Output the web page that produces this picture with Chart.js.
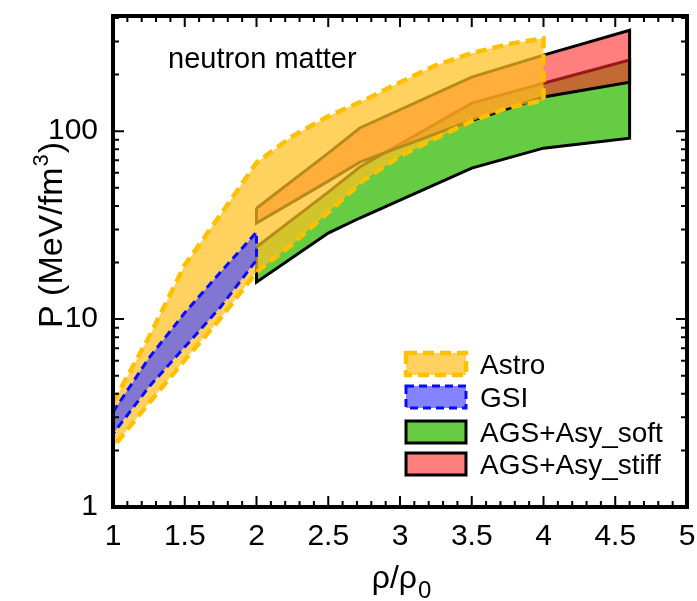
<!DOCTYPE html>
<html>
<head>
<meta charset="utf-8">
<title>Neutron matter pressure</title>
<style>
  * { margin: 0; padding: 0; }
  body { background: #fff; }
  #wrap { width: 697px; height: 601px; }
</style>
<script src="https://cdn.jsdelivr.net/npm/chart.js"></script>
</head>
<body>
<div id="wrap"><canvas id="eos"></canvas></div>
<script>
// density rho/rho0 and pressure P (MeV/fm^3)
const astroX     = [1, 1.25, 1.5, 1.75, 2, 2.25, 2.5, 2.75, 3, 3.25, 3.5, 3.75, 4];
const astroUpper = [3.6, 8.0, 19.4, 36, 68, 94, 120, 146, 182, 224, 260, 290, 312];
const astroLower = [2.08, 3.57, 6.05, 10.1, 17.8, 25, 37, 55, 73.6, 91.8, 113, 133, 146];

const gsiX     = [1, 1.25, 1.5, 1.75, 2];
const gsiUpper = [3.2, 6.2, 10.8, 17.8, 29];
const gsiLower = [2.45, 4.35, 7.1, 11.6, 20.6];

const agsX      = [2, 2.5, 2.72, 3.5, 4, 4.6];
const softUpper = [24.2, 47.4, 64.4, 141, 180, 239];
const softLower = [15.7, 28.7, 34.5, 63.6, 81.2, 91.8];
const stiffUpper = [38.9, 76.4, 104, 194, 254, 344];
const stiffLower = [32.4, 54.2, 68.4, 114, 152, 182];

const xTicks = [1, 1.5, 2, 2.5, 3, 3.5, 4, 4.5, 5];
const yTicks = [1, 10, 100];
const legendOrder = ['Astro', 'GSI', 'AGS+Asy_soft', 'AGS+Asy_stiff'];

const FONT = "'Liberation Sans', Arial, Helvetica, sans-serif";
Chart.defaults.font.family = FONT;

// closed outline: upper edge left to right, lower edge back
function band(xs, upper, lower) {
  const pts = xs.map((x, i) => ({x: x, y: upper[i]}));
  for (let i = xs.length - 1; i >= 0; i--) pts.push({x: xs[i], y: lower[i]});
  pts.push(pts[0]);
  return pts;
}

function bandSet(label, pts, fillColor, lineColor, width, dash) {
  return {
    label: label,
    data: pts,
    showLine: true,
    fill: 'shape',
    backgroundColor: fillColor,
    borderColor: lineColor,
    borderWidth: width,
    borderDash: dash,
    borderJoinStyle: 'miter',
    pointRadius: 0,
    pointHoverRadius: 0
  };
}

// first one ends up on top
const datasets = [
  bandSet('GSI', band(gsiX, gsiUpper, gsiLower), 'rgba(80,80,255,0.71)', '#0a0aff', 3, [8, 5]),
  bandSet('Astro', band(astroX, astroUpper, astroLower), 'rgba(255,192,35,0.72)', '#ffc000', 4.5, [11, 6]),
  bandSet('AGS+Asy_stiff', band(agsX, stiffUpper, stiffLower), 'rgba(255,40,40,0.6)', '#000', 3, []),
  bandSet('AGS+Asy_soft', band(agsX, softUpper, softLower), '#66cc44', '#000', 3, [])
];

const decorations = {
  id: 'decorations',
  afterDraw(chart) {
    const {ctx, chartArea: a, scales: {x, y}} = chart;
    ctx.save();
    ctx.strokeStyle = '#000';
    ctx.lineWidth = 2;
    ctx.beginPath();
    // x ticks every 0.1, pointing inward, bottom and top
    for (let i = 0; i <= 40; i++) {
      const px = x.getPixelForValue(1 + i / 10);
      const len = i % 5 === 0 ? 11 : 6;
      ctx.moveTo(px, a.bottom); ctx.lineTo(px, a.bottom - len);
      ctx.moveTo(px, a.top); ctx.lineTo(px, a.top + len);
    }
    // log y ticks, left and right
    for (let e = 0; e < 3; e++) {
      for (let m = 1; m <= 9; m++) {
        const v = m * Math.pow(10, e);
        if (v > y.max) break;
        const py = y.getPixelForValue(v);
        const len = m === 1 ? 11 : 6;
        ctx.moveTo(a.left, py); ctx.lineTo(a.left + len, py);
        ctx.moveTo(a.right, py); ctx.lineTo(a.right - len, py);
      }
    }
    ctx.stroke();
    ctx.lineWidth = 4;
    ctx.strokeRect(a.left, a.top, a.right - a.left, a.bottom - a.top);

    ctx.fillStyle = '#000';
    ctx.textBaseline = 'alphabetic';

    // annotation
    ctx.font = '29px ' + FONT;
    ctx.textAlign = 'left';
    ctx.fillText('neutron matter', 168, 68);

    // x title with subscript
    ctx.font = '32px ' + FONT;
    const main = 'ρ/ρ';
    const wMain = ctx.measureText(main).width;
    ctx.font = '24px ' + FONT;
    const wSub = ctx.measureText('0').width;
    let sx = 401 - (wMain + wSub) / 2;
    ctx.font = '32px ' + FONT;
    ctx.fillText(main, sx, 588);
    ctx.font = '24px ' + FONT;
    ctx.fillText('0', sx + wMain + 1, 598);

    // y title with superscript
    ctx.save();
    ctx.translate(62, 236);
    ctx.rotate(-Math.PI / 2);
    ctx.font = '34px ' + FONT;
    const t1 = 'P (MeV/fm', t3 = ')';
    const w1 = ctx.measureText(t1).width, w3 = ctx.measureText(t3).width;
    ctx.font = '22px ' + FONT;
    const w2 = ctx.measureText('3').width;
    let tx = -(w1 + w2 + w3) / 2;
    ctx.font = '34px ' + FONT;
    ctx.fillText(t1, tx, 0);
    ctx.font = '22px ' + FONT;
    ctx.fillText('3', tx + w1 + 1, -14);
    ctx.font = '34px ' + FONT;
    ctx.fillText(t3, tx + w1 + w2 + 2, 0);
    ctx.restore();

    // legend
    const rows = [364, 397, 432, 464];
    legendOrder.forEach((name, i) => {
      const ds = chart.data.datasets.find(d => d.label === name);
      const cy = rows[i];
      ctx.fillStyle = ds.backgroundColor;
      ctx.fillRect(406, cy - 11, 60, 22);
      ctx.strokeStyle = ds.borderColor;
      ctx.lineWidth = ds.borderWidth;
      ctx.setLineDash(ds.borderDash);
      ctx.strokeRect(406, cy - 11, 60, 22);
      ctx.setLineDash([]);
      ctx.fillStyle = '#000';
      ctx.font = '28px ' + FONT;
      ctx.fillText(name, 480, cy + 10);
    });
    ctx.restore();
  }
};

new Chart(document.getElementById('eos'), {
  type: 'scatter',
  data: { datasets: datasets },
  options: {
    responsive: true,
    maintainAspectRatio: false,
    animation: false,
    layout: { padding: { top: 16, right: 10, left: 0, bottom: 0 } },
    plugins: {
      legend: { display: false },
      tooltip: { enabled: false }
    },
    scales: {
      x: {
        type: 'linear',
        min: 1,
        max: 5,
        afterBuildTicks: s => { s.ticks = xTicks.map(v => ({value: v})); },
        afterFit: s => { s.height = 94; s.paddingLeft = 0; s.paddingRight = 0; },
        grid: { display: false, drawTicks: false },
        border: { display: false },
        ticks: {
          color: '#000',
          font: { size: 30 },
          padding: 12,
          maxRotation: 0,
          autoSkip: false,
          callback: v => String(v)
        }
      },
      y: {
        type: 'logarithmic',
        min: 1,
        max: 410,
        afterBuildTicks: s => { s.ticks = yTicks.map(v => ({value: v})); },
        afterFit: s => { s.width = 113; s.paddingTop = 0; s.paddingBottom = 0; },
        grid: { display: false, drawTicks: false },
        border: { display: false },
        ticks: {
          color: '#000',
          font: { size: 30 },
          padding: 15,
          autoSkip: false,
          callback: v => String(v)
        }
      }
    }
  },
  plugins: [decorations]
});
</script>
</body>
</html>
